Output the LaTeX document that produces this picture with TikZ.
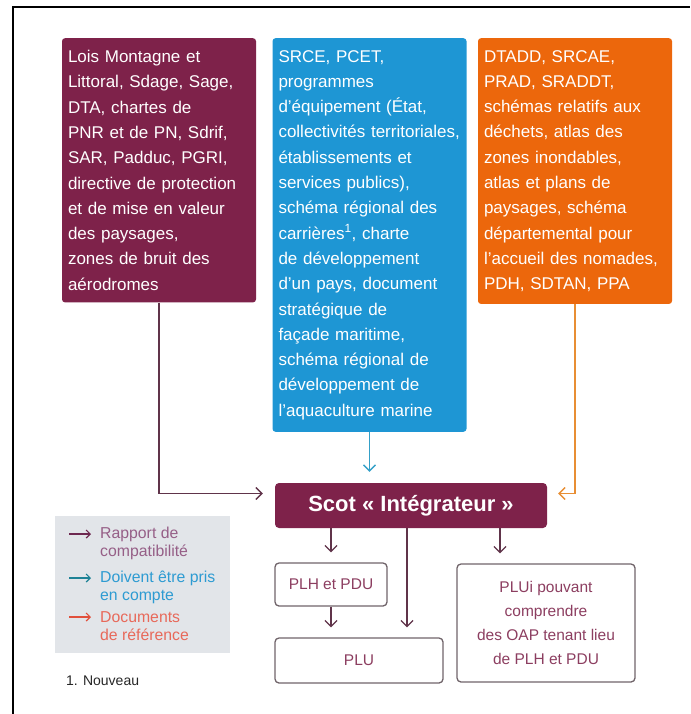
\documentclass[tikz,border=0pt]{standalone}
\usepackage{fontspec}
\setmainfont{Liberation Sans}
\usetikzlibrary{arrows.meta}
\definecolor{scotpurple}{RGB}{126,34,74}
\definecolor{srcblue}{RGB}{30,150,212}
\definecolor{srcorange}{RGB}{236,103,12}
\definecolor{legendgray}{RGB}{226,229,233}
\definecolor{docline}{RGB}{112,100,106}
\definecolor{doctext}{RGB}{140,62,96}
\definecolor{arrpurple}{RGB}{96,52,74}
\definecolor{arrblue}{RGB}{52,160,200}
\definecolor{arrorange}{RGB}{232,142,52}
\definecolor{legrapA}{RGB}{110,40,80}
\definecolor{legrap}{RGB}{150,95,135}
\definecolor{legdoivA}{RGB}{30,130,150}
\definecolor{legdoiv}{RGB}{45,155,210}
\definecolor{legrefA}{RGB}{225,80,60}
\definecolor{legref}{RGB}{232,105,90}
\begin{document}
\begin{tikzpicture}[x=1pt,y=-1pt,
  src/.style={anchor=north, text=white, text width=182pt, inner xsep=6pt, inner ysep=12pt,
    align=left, rounded corners=3pt, font=\fontsize{17}{25.3}\selectfont},
  doc/.style={draw=docline, line width=1.3pt, rounded corners=4pt, text=doctext,
    align=center, font=\fontsize{15.5}{24}\selectfont},
  arr/.style={line width=1.3pt, -{Straight Barb[length=6pt,width=12pt]}},
  legarr/.style={line width=1.2pt, -{Straight Barb[length=4pt,width=8pt]}},
  leg/.style={anchor=west, align=left, inner sep=0pt, font=\fontsize{15.8}{18}\selectfont}]
\useasboundingbox (0,0) rectangle (690,714);
\path[draw, line width=1.8pt] (13,714) -- (13,7) -- (690,7);

% sources
\node[src, fill=scotpurple] (lois) at (159,38) {Lois Montagne et\\Littoral, Sdage, Sage,\\DTA, chartes de\\PNR et de PN, Sdrif,\\SAR, Padduc, PGRI,\\directive de protection\\et de mise en valeur\\des paysages,\\zones de bruit des\\aérodromes};
\node[src, fill=srcblue] (srce) at (369.5,38) {SRCE, PCET,\\programmes\\d'équipement (État,\\collectivités territoriales,\\établissements et\\services publics),\\schéma régional des\\carrières\textsuperscript{1}, charte\\de développement\\d'un pays, document\\stratégique de\\façade maritime,\\schéma régional de\\développement de\\l'aquaculture marine};
\node[src, fill=srcorange] (dtadd) at (575,38) {DTADD, SRCAE,\\PRAD, SRADDT,\\schémas relatifs aux\\déchets, atlas des\\zones inondables,\\atlas et plans de\\paysages, schéma\\départemental pour\\l'accueil des nomades,\\PDH, SDTAN, PPA};

\node[fill=scotpurple, text=white, rounded corners=4pt, minimum width=272pt, minimum height=45pt,
  font=\fontsize{22}{26}\selectfont\bfseries] (scot) at (411,505.5) {Scot « Intégrateur »};

% documents
\node[doc, minimum width=112pt, minimum height=43pt] (plh) at (331,584.5) {PLH et PDU};
\node[doc, minimum width=168pt, minimum height=45pt] (plu) at (359,660.5) {PLU};
\node[doc, minimum width=178pt, minimum height=118pt] (plui) at (546,623) {PLUi pouvant\\comprendre\\des OAP tenant lieu\\de PLH et PDU};
\coordinate (midline) at (407,0);
\coordinate (pluileft) at (500,0);

\path[draw, arr, arrpurple, shorten >=12pt] (lois.south) |- ([yshift=12pt]scot.west);
\path[draw, arr, arrblue, shorten >=11pt] (srce.south) -- (srce.south |- scot.north);
\path[draw, arr, arrorange, shorten >=11pt] (dtadd.south) |- ([yshift=12pt]scot.east);

\path[draw, arr, arrpurple, shorten >=10pt] (scot.south -| plh.north) -- (plh.north);
\path[draw, arr, arrpurple, shorten >=10pt] (scot.south -| midline) -- (plu.north -| midline);
\path[draw, arr, arrpurple, shorten >=10pt] (scot.south -| pluileft) -- (plui.north -| pluileft);
\path[draw, arr, arrpurple, shorten >=10pt] (plh.south) -- (plh.south |- plu.north);

% legend
\node[fill=legendgray, minimum width=175pt, minimum height=137pt, anchor=north west, inner sep=0pt] (legend) at (55,516) {};
\node[leg, text=legrap] (rapport) at (100,543) {Rapport de\\compatibilité};
\node[leg, text=legdoiv] (doivent) at (100,587) {Doivent être pris\\en compte};
\node[leg, text=legref] (reference) at (100,626) {Documents\\de référence};
\path[draw, legarr, legrapA] ([xshift=-31pt,yshift=9pt]rapport.west) -- ++(22,0);
\path[draw, legarr, legdoivA] ([xshift=-31pt,yshift=9pt]doivent.west) -- ++(22,0);
\path[draw, legarr, legrefA] ([xshift=-31pt,yshift=9pt]reference.west) -- ++(22,0);
\node[anchor=west, inner sep=0pt, font=\fontsize{14}{16}\selectfont, text=black!85] (nouveau) at (66,681) {1. Nouveau};
\end{tikzpicture}
\end{document}
